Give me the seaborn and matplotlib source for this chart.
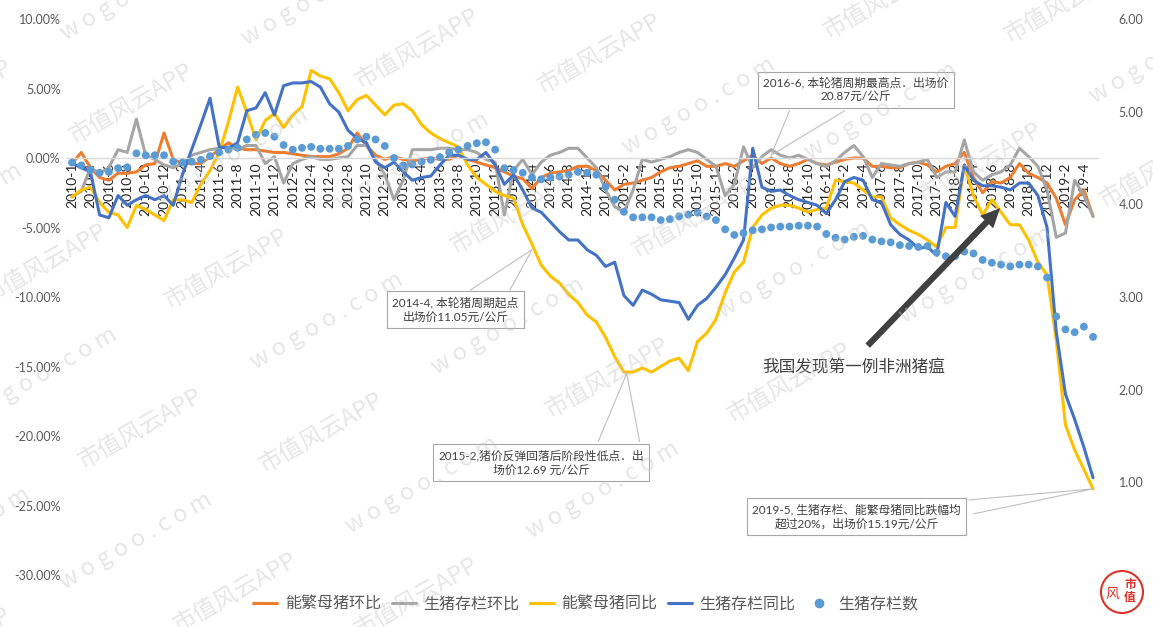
import numpy as np
import pandas as pd
import matplotlib.pyplot as plt
import seaborn as sns
from matplotlib.lines import Line2D
from matplotlib.patches import Ellipse

# month categories: 2010-1, then 2010-3 ... 2019-5 (no 2010-2 in the source table)
months = ['2010-1'] + [f'{y}-{m}' for y in range(2010, 2020) for m in range(1, 13)
                       if (2010, 2) < (y, m) <= (2019, 5)]

# 能繁母猪环比 (%)
sow_mom = [-0.4, 0.4, -0.7, -1.4, -1.6, -1.1, -1.1, -1.0, -0.5, -0.4,
           1.8, -0.1, -0.4, -0.4, -0.4, 0.1, 0.6, 1.1, 0.7, 0.6,
           0.6, 0.5, 0.4, 0.4, 0.3, 0.2, 0.1, 0.1, 0.1, 0.3,
           0.7, 1.8, 0.9, 0.2, -0.1, 0.1, -0.1, -0.2, -0.1, 0.0,
           -0.1, -0.1, 0.2, -0.1, -0.3, -0.5, -0.7, -1.0, -1.3, -1.5,
           -2.2, -1.4, -1.1, -1.0, -0.9, -0.6, -0.6, -0.9, -1.6, -2.3,
           -1.9, -1.8, -1.6, -1.4, -1.0, -0.7, -0.6, -0.4, -0.2, -0.6,
           -0.6, -0.4, -0.6, -0.2, 0.2, -0.4, 0.0, -0.4, -0.6, -0.4,
           -0.1, -0.4, -0.5, -0.3, -0.1, 0.0, 0.0, -0.6, -0.6, -0.7,
           -0.7, -0.4, -0.3, -0.5, -1.0, -0.6, -0.4, 0.4, -1.4, -2.5,
           -1.7, -1.8, -1.4, -0.4, -1.1, -1.4, -1.8, -2.9, -4.8, -3.0,
           -2.3, -4.2]

# 生猪存栏环比 (%)
hog_mom = [-2.8, -2.4, -0.7, -1.1, -0.7, 0.6, 0.4, 2.8, 0.2, -0.1,
           -0.5, -0.7, -0.4, 0.2, 0.4, 0.6, 0.7, 0.8, 0.6, 0.9,
           0.9, -0.4, 0.1, -1.8, -0.4, -0.1, 0.1, -0.1, -0.1, 0.0,
           0.1, 0.9, 0.9, -0.1, -1.2, -3.0, -1.6, 0.6, 0.6, 0.6,
           0.7, 0.7, 0.6, 0.6, 0.4, -0.1, -0.3, -4.1, -0.9, -0.1,
           -1.2, -0.3, 0.2, 0.4, 0.7, 0.7, 0.0, -0.7, -2.3, -3.5,
           -3.9, -2.3, -0.1, -0.3, -0.1, 0.1, 0.4, 0.6, 0.4, -0.1,
           -0.6, -2.7, -1.9, 0.8, -0.7, 0.1, 0.6, 0.2, 0.0, 0.2,
           -0.1, -0.4, -0.6, -0.2, 0.4, 0.9, 0.1, -1.4, -0.4, -0.5,
           -0.6, -0.4, -0.3, -0.1, -1.4, -1.0, -1.0, 1.3, -1.0, -1.6,
           -1.2, -1.0, -0.5, 0.7, 0.1, -0.6, -2.3, -5.7, -5.4, -1.6,
           -2.7, -4.2]

# 能繁母猪同比 (%)
sow_yoy = [-2.8, -2.3, -2.1, -3.2, -3.9, -4.1, -5.0, -3.4, -3.7, -4.1,
           -4.5, -3.0, -3.0, -3.2, -1.9, -0.9, 0.4, 2.6, 5.1, 3.3,
           1.3, 2.7, 3.2, 2.2, 3.1, 3.7, 6.3, 5.9, 5.7, 4.7,
           3.4, 4.2, 4.5, 3.8, 3.1, 3.8, 3.9, 3.4, 2.4, 1.8,
           1.4, 1.1, 0.8, -0.5, -1.4, -1.9, -2.4, -2.7, -2.9, -4.8,
           -6.2, -7.7, -8.5, -9.0, -9.8, -10.4, -11.3, -11.8, -12.9, -14.3,
           -15.4, -15.4, -15.1, -15.4, -15.0, -14.6, -14.4, -15.3, -13.2, -12.6,
           -11.6, -9.7, -8.2, -7.5, -5.0, -4.1, -3.6, -3.4, -3.4, -3.6,
           -3.9, -3.7, -3.6, -1.6, -1.7, -1.8, -2.3, -2.8, -2.8, -4.3,
           -4.8, -5.2, -5.5, -5.9, -6.4, -5.0, -5.0, -0.5, -2.7, -4.1,
           -3.0, -3.9, -4.8, -4.8, -5.9, -7.5, -8.4, -13.1, -19.2, -21.0,
           -22.4, -23.8]

# 生猪存栏同比 (%)
hog_yoy = [-0.4, -0.7, -1.0, -4.1, -4.3, -2.7, -3.4, -3.0, -2.7, -3.0,
           -2.7, -3.4, -1.2, 0.6, 2.4, 4.3, 0.8, 0.7, 1.1, 3.4,
           3.6, 4.7, 3.1, 5.2, 5.4, 5.4, 5.5, 5.1, 3.9, 3.3,
           2.0, 1.4, 1.1, -0.3, -0.7, -0.3, -1.0, -1.6, -1.4, -1.3,
           -0.5, 0.2, 0.2, -0.1, -0.1, 0.4, -0.5, -1.9, -1.2, -2.3,
           -3.6, -3.9, -4.6, -5.3, -5.9, -5.9, -6.6, -7.0, -7.8, -7.5,
           -9.9, -10.6, -9.5, -9.8, -10.2, -10.3, -10.4, -11.6, -10.6, -10.1,
           -9.3, -8.4, -7.2, -5.9, 0.7, -2.1, -2.4, -2.3, -2.7, -3.0,
           -3.2, -3.4, -4.0, -3.0, -1.7, -1.4, -1.6, -3.0, -3.2, -4.8,
           -5.5, -5.9, -6.5, -6.4, -7.0, -3.2, -4.2, -0.5, -1.6, -2.0,
           -2.0, -2.1, -2.3, -1.8, -1.8, -2.7, -5.0, -12.5, -17.0, -18.8,
           -20.8, -23.0]

# 生猪存栏数 (right axis)
hog_stock = [4.45, 4.42, 4.37, 4.34, 4.35, 4.39, 4.40, 4.55, 4.53, 4.53,
             4.53, 4.46, 4.45, 4.46, 4.48, 4.52, 4.56, 4.59, 4.61, 4.70,
             4.75, 4.77, 4.73, 4.64, 4.59, 4.61, 4.62, 4.60, 4.60, 4.60,
             4.63, 4.70, 4.73, 4.70, 4.63, 4.50, 4.42, 4.43, 4.46, 4.48,
             4.51, 4.56, 4.59, 4.63, 4.66, 4.67, 4.59, 4.39, 4.37, 4.34,
             4.29, 4.27, 4.29, 4.30, 4.32, 4.35, 4.34, 4.32, 4.19, 4.05,
             3.92, 3.86, 3.86, 3.86, 3.83, 3.84, 3.87, 3.89, 3.91, 3.87,
             3.83, 3.73, 3.67, 3.69, 3.72, 3.73, 3.75, 3.76, 3.76, 3.77,
             3.77, 3.76, 3.68, 3.64, 3.62, 3.65, 3.66, 3.62, 3.60, 3.59,
             3.56, 3.55, 3.54, 3.55, 3.48, 3.44, 3.44, 3.49, 3.47, 3.40,
             3.37, 3.35, 3.33, 3.35, 3.35, 3.33, 3.21, 2.79, 2.65, 2.62,
             2.68, 2.57]

series_names = ['能繁母猪环比', '生猪存栏环比', '能繁母猪同比', '生猪存栏同比']
series_colors = ['#ED7D31', '#A5A5A5', '#FFC000', '#4472C4']
dot_name = '生猪存栏数'
dot_color = '#5B9BD5'

df = pd.DataFrame({'idx': range(len(months)),
                   '能繁母猪环比': sow_mom, '生猪存栏环比': hog_mom,
                   '能繁母猪同比': sow_yoy, '生猪存栏同比': hog_yoy,
                   '生猪存栏数': hog_stock})

sns.set_style('white')
plt.rcParams['font.family'] = ['Lato', 'Noto Sans CJK SC', 'DejaVu Sans']

fig = plt.figure(figsize=(11.53, 6.27), dpi=100)
ax = fig.add_axes([0.0585, 0.0829, 0.8935, 0.8868])
ax2 = ax.twinx()

for name, color in zip(series_names, series_colors):
    sns.lineplot(data=df, x='idx', y=name, color=color, linewidth=2.2, ax=ax, legend=False)
sns.scatterplot(data=df, x='idx', y=dot_name, color=dot_color, s=32, edgecolor='none',
                ax=ax2, legend=False, zorder=3)

yt = list(range(-30, 11, 5))
ax.set_yticks(yt)
ax.set_yticklabels([f'{v:.2f}%' for v in yt], fontsize=9, color='#595959')
ax2.set_yticks([1, 2, 3, 4, 5, 6])
ax2.set_yticklabels([f'{v:.2f}' for v in [1, 2, 3, 4, 5, 6]], fontsize=9, color='#595959')

ax.set_xticks(range(0, len(months), 2))
ax.set_xticklabels(months[::2], fontsize=8.3, color='#595959')
ax.tick_params(axis='x', length=0, pad=3, labelrotation=90)
ax.tick_params(axis='y', length=0, pad=5)
ax2.tick_params(axis='y', length=0, pad=15)
for a in (ax, ax2):
    a.set_xlabel('')
    a.set_ylabel('')
    a.grid(False)
    for s in a.spines.values():
        s.set_visible(False)
ax.spines['bottom'].set_visible(True)
ax.spines['bottom'].set_position(('data', 0))
ax.spines['bottom'].set_color('#d9d9d9')
ax.spines['bottom'].set_linewidth(1.0)

# callout boxes
box_kw = dict(boxstyle='square,pad=0.45', fc='white', ec='#a6a6a6', lw=0.8)
txt_kw = dict(ha='center', va='center', fontsize=8.5, color='#404040',
              transform=ax.transData, zorder=10, linespacing=1.35)
ptr_kw = dict(color='#bfbfbf', lw=0.8, transform=ax.transData, zorder=9)

ax2.text(85.2, 4.9, '2016-6, 本轮猪周期最高点．出场价\n20.87元/公斤', bbox=box_kw, **txt_kw)
ax2.plot([78.0, 76.0, 84.0], [3.4, 0.2, 3.4], **ptr_kw)

ax2.text(41.7, -10.9, '2014-4, 本轮猪周期起点\n出场价11.05元/公斤', bbox=box_kw, **txt_kw)
ax2.plot([43.3, 50.0, 47.6], [-9.5, -6.6, -9.5], **ptr_kw)

ax2.text(51.0, -21.9, '2015-2,猪价反弹回落后阶段性低点．出\n场价12.69 元/公斤', bbox=box_kw, **txt_kw)
ax2.plot([57.2, 60.3, 61.7], [-20.4, -15.5, -20.4], **ptr_kw)

ax2.text(85.3, -25.8, '2019-5, 生猪存栏、能繁母猪同比跌幅均\n超过20%，出场价15.19元/公斤', bbox=box_kw, **txt_kw)
ax2.plot([97.5, 111.0, 98.0], [-24.6, -23.8, -25.6], **ptr_kw)

ax2.text(85.0, -15.1, '我国发现第一例非洲猪瘟', ha='center', va='center', fontsize=12,
         color='#404040', transform=ax.transData, zorder=10)
ax2.annotate('', xy=(100.9, -3.6), xytext=(86.5, -13.5),
             xycoords=ax.transData, textcoords=ax.transData,
             arrowprops=dict(facecolor='#404040', edgecolor='none', width=4.5,
                             headwidth=13, headlength=14, shrink=0), zorder=10)

ax.set_xlim(-0.5, len(months) - 0.5)
ax.set_ylim(-30, 10)
ax2.set_ylim(0, 6)

# legend
handles = [Line2D([], [], color=c, lw=2.2) for c in series_colors]
handles.append(Line2D([], [], color=dot_color, lw=0, marker='o', markersize=6))
fig.legend(handles, series_names + [dot_name], loc='center', bbox_to_anchor=(0.508, 0.037),
           ncol=5, frameon=False, fontsize=11.5, handlelength=1.5, handletextpad=0.45,
           columnspacing=0.7, labelcolor='#595959')

# watermark
W, H = 1153, 627
ang = np.deg2rad(30)
d = np.array([np.cos(ang), np.sin(ang)])
n = np.array([-np.sin(ang), np.cos(ang)])
anchor = np.array([132, H - 104])
for r in range(-6, 8):
    for k in range(-6, 8):
        p = anchor + r * 95 * n + (k * 215 + (r % 2) * 60) * d
        if -80 < p[0] < W + 80 and -40 < p[1] < H + 40:
            txt = '市值风云APP' if (k + r) % 2 == 0 else 'w o g o o . c o m'
            fig.text(p[0] / W, p[1] / H, txt, rotation=30, ha='center', va='center',
                     fontsize=17, color='#c0c0c0', alpha=0.4, zorder=20,
                     family=['Noto Sans CJK SC', 'DejaVu Sans'])

# logo, bottom right
fig.patches.append(Ellipse((1122 / W, (H - 592) / H), 42 / W, 42 / H, transform=fig.transFigure,
                           fill=False, ec='#d9342b', lw=1.5))
fig.text(1130 / W, (H - 591) / H, '市\n值', color='#d9342b', fontsize=8.5, fontweight='bold',
         ha='center', va='center', linespacing=1.0, family=['Noto Sans CJK SC'])
fig.text(1112 / W, (H - 594) / H, '风', color='#d9342b', fontsize=10, ha='center', va='center',
         family=['Noto Sans CJK SC'])

fig.savefig('out.png', dpi=100)
